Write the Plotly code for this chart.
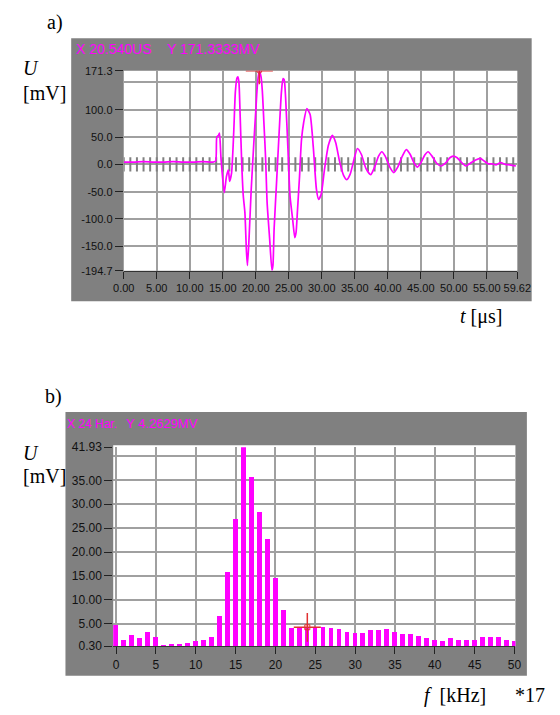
import plotly.graph_objects as go

# ---------------- data: panel a) time signal ----------------
t_us = [0, 1.5, 3, 4.5, 6, 7.5, 9, 10.5, 12, 13.5, 13.92, 14.1, 14.35, 14.5, 14.74,
        15.22, 15.56, 15.85, 16.04, 16.33, 16.67, 16.91, 17.15, 17.29, 17.45, 17.63,
        17.87, 18.11, 18.35, 18.59, 18.74, 18.98, 19.31, 19.7, 20.03, 20.28, 20.54,
        20.8, 21.0, 21.24, 21.48, 21.72, 22.1, 22.45, 22.6, 22.78, 23.17, 23.55, 23.89,
        24.13, 24.3, 24.52, 24.86, 25.19, 25.58, 25.91, 26.1, 26.3, 26.63, 26.92, 27.26,
        27.74, 28.23, 28.71, 29.19, 29.5, 29.9, 30.4, 31.0, 31.6, 32.1, 32.7, 33.3, 33.8,
        34.3, 34.9, 35.4, 36.0, 36.7, 37.4, 38.0, 38.6, 39.1, 39.6, 40.3, 40.9, 41.5,
        42.2, 42.8, 43.4, 44.0, 44.5, 45.1, 45.6, 46.1, 46.7, 47.4, 48.1, 48.8, 49.4,
        49.9, 50.5, 51.2, 51.8, 52.5, 53.3, 54.0, 54.6, 55.2, 55.8, 56.4, 57.1, 57.8,
        58.5, 59.4]
u_mv = [4, 4, 5, 4, 4, 5, 4, 4, 5, 4, 6, 50, 53, 57, 10,
        -52, -22, -10, -31, -16, 61, 133, 158, 160, 150, 91,
        2, -58, -88, -160, -185, -136, -46, 38, 104, 151, 171.3,
        160, 133, 74, 14, -70, -136, -194, -185, -118, -28, 61, 133,
        157, 155, 122, 32, -58, -100, -134, -125, -88, -22, 44, 77,
        102, 91, 32, -46, -64, -55, -10, 35, 53, 40, 5, -20, -28,
        -18, 10, 29, 18, -8, -19, -5, 15, 23, 15, -5, -15, -5,
        15, 27, 18, 2, -5, 5, 17, 23, 15, 2, -3, 3, 12,
        15, 12, 3, -3, 2, 8, 11, 6, 1, 1, -1, 3, 0,
        -1, -3]

a_xticks = [0, 5, 10, 15, 20, 25, 30, 35, 40, 45, 50, 55, 59.62]
a_xlabels = ["0.00", "5.00", "10.00", "15.00", "20.00", "25.00", "30.00", "35.00",
             "40.00", "45.00", "50.00", "55.00", "59.62"]
a_yticks = [171.3, 100, 50, 0, -50, -100, -150, -194.7]
a_ylabels = ["171.3", "100.0", "50.0", "0.0", "-50.0", "-100.0", "-150.0", "-194.7"]
a_cursor_x = [20.54]
a_cursor_y = [171.3333]
zero_ticks_t = list(range(0, 60))

# ---------------- data: panel b) spectrum ----------------
f_khz = list(range(0, 51))
amp_mv = [4.65, 1.6, 2.7, 1.9, 3.3, 2.1, 0.5, 0.7, 0.7, 1.0,
          1.25, 1.6, 2.1, 6.6, 15.7, 26.9, 41.93, 35.75, 28.4, 22.7,
          14.5, 7.85, 4.1, 4.2, 4.26, 4.25, 4.38, 4.1, 3.84, 3.3,
          3.0, 3.0, 3.57, 3.57, 3.84, 3.3, 2.75, 2.75, 2.48, 1.93,
          1.66, 1.32, 1.93, 1.66, 1.66, 1.66, 2.2, 2.2, 2.2, 1.66, 1.32]
b_xticks = [0, 5, 10, 15, 20, 25, 30, 35, 40, 45, 50]
b_xlabels = [str(v) for v in b_xticks]
b_yticks = [41.93, 35, 30, 25, 20, 15, 10, 5, 0.3]
b_ylabels = ["41.93", "35.00", "30.00", "25.00", "20.00", "15.00", "10.00", "5.00", "0.30"]
b_cursor_x = [24]
b_cursor_y = [4.2629]

# ---------------- layout helpers ----------------
W, H = 560, 715
def px(x): return x / W
def py(y): return 1 - y / H

MAG = "#ff00ff"
GRID = "#a0a0a0"
FRAME = "#808080"
TICKFONT = dict(family="Liberation Sans, Arial", size=11, color="#111111")
TICKFONT_B = dict(family="Liberation Sans, Arial", size=12, color="#111111")
SERIF = "Liberation Serif, Times New Roman"
SANS = "Liberation Sans, Arial"

fig = go.Figure()

# zero-line tick marks in panel a
fig.add_trace(go.Scatter(
    x=zero_ticks_t, y=[0] * len(zero_ticks_t), mode="markers",
    marker=dict(size=1, color="rgba(0,0,0,0)"),
    error_y=dict(type="constant", value=13, color="#808080", thickness=2, width=0),
    xaxis="x", yaxis="y", hoverinfo="skip", showlegend=False))

fig.add_trace(go.Scatter(
    x=t_us, y=u_mv, mode="lines",
    line=dict(color=MAG, width=1.7, shape="spline", smoothing=0.6),
    xaxis="x", yaxis="y", showlegend=False))

fig.add_trace(go.Scatter(
    x=a_cursor_x, y=a_cursor_y, mode="markers",
    marker=dict(symbol="circle-open", size=5, color="#e03030", line=dict(width=1)),
    error_x=dict(type="constant", value=2.05, color="#e03030", thickness=1.5, width=0),
    error_y=dict(type="constant", value=25, color="#e03030", thickness=1.5, width=0),
    xaxis="x", yaxis="y", showlegend=False))

fig.add_trace(go.Bar(
    x=f_khz, y=amp_mv, width=0.6, marker=dict(color=MAG, line=dict(width=0)),
    xaxis="x2", yaxis="y2", showlegend=False))

fig.add_trace(go.Scatter(
    x=b_cursor_x, y=b_cursor_y, mode="markers",
    marker=dict(symbol="square-open", size=5, color="#e03030", line=dict(width=1)),
    error_x=dict(type="constant", value=1.7, color="#e03030", thickness=1.5, width=0),
    error_y=dict(type="constant", value=3.0, color="#e03030", thickness=1.5, width=0),
    xaxis="x2", yaxis="y2", showlegend=False))

common_axis = dict(showgrid=True, gridcolor=GRID, gridwidth=2, zeroline=False,
                   ticks="outside", tickcolor="#222222", tickwidth=1, fixedrange=True)

fig.update_layout(
    width=W, height=H, margin=dict(l=0, r=0, t=0, b=0),
    paper_bgcolor="white", plot_bgcolor="white", showlegend=False, bargap=0,
    xaxis=dict(domain=[px(118), px(530)], range=[0, 59.62], anchor="y",
               tickmode="array", tickvals=a_xticks, ticktext=a_xlabels, ticklen=7,
               tickfont=TICKFONT,
               showline=True, linecolor="#333333", linewidth=1, **common_axis),
    yaxis=dict(domain=[py(269), py(65)], range=[-194.7, 171.3], anchor="x",
               tickmode="array", tickvals=a_yticks, ticktext=a_ylabels, ticklen=8,
               tickfont=TICKFONT,
               minor=dict(tickmode="array", tickvals=[150], showgrid=True,
                          gridcolor=GRID, gridwidth=2, ticks=""),
               **common_axis),
    xaxis2=dict(domain=[px(107), px(528)], range=[-0.36, 50.12], anchor="y2",
                tickmode="array", tickvals=b_xticks, ticktext=b_xlabels, ticklen=7,
                tickfont=TICKFONT_B,
                showline=True, linecolor="#333333", linewidth=1, **common_axis),
    yaxis2=dict(domain=[py(652), py(449)], range=[0.3, 41.93], anchor="x2",
                tickmode="array", tickvals=b_yticks, ticktext=b_ylabels, ticklen=8,
                tickfont=TICKFONT_B,
                minor=dict(tickmode="array", tickvals=[40], showgrid=True,
                           gridcolor=GRID, gridwidth=2, ticks=""),
                **common_axis),
)

# gray instrument frames, then white plotting areas on top of them
fig.add_shape(type="rect", xref="paper", yref="paper", layer="below",
              x0=px(63), x1=px(545), y0=py(300), y1=py(32),
              fillcolor=FRAME, line=dict(width=0))
fig.add_shape(type="rect", xref="paper", yref="paper", layer="below",
              x0=px(57), x1=px(540), y0=py(682), y1=py(413),
              fillcolor=FRAME, line=dict(width=0))
fig.add_shape(type="rect", xref="paper", yref="paper", layer="below",
              x0=px(118), x1=px(530), y0=py(269), y1=py(65),
              fillcolor="white", line=dict(width=0))
fig.add_shape(type="rect", xref="paper", yref="paper", layer="below",
              x0=px(107), x1=px(528), y0=py(652), y1=py(447),
              fillcolor="white", line=dict(width=0))

def txt(x, y, s, size, family, color="black", xanchor="center"):
    fig.add_annotation(x=px(x), y=py(y), xref="paper", yref="paper", text=s,
                       showarrow=False, xanchor=xanchor, yanchor="middle",
                       font=dict(family=family, size=size, color=color))

txt(66, 43, "X 20.540US", 14, SANS, MAG, "left")
txt(161, 43, "Y 171.3333MV", 14, SANS, MAG, "left")
txt(57, 425, "X 24 Har.", 12, SANS, MAG, "left")
txt(118, 425, "Y 4.2629MV", 13, SANS, MAG, "left")

txt(46, 16, "a)", 20, SERIF)
txt(21, 62, "<i>U</i>", 20, SERIF)
txt(35, 88, "[mV]", 20, SERIF)
txt(492, 316, "<i>t</i> [μs]", 20, SERIF)

txt(44, 397, "b)", 20, SERIF)
txt(21, 455, "<i>U</i>", 20, SERIF)
txt(35, 478, "[mV]", 20, SERIF)
txt(465, 702, "<i>f</i>  [kHz]", 20, SERIF)
txt(543, 702, "*17", 20, SERIF)

fig.write_html("out.html")
